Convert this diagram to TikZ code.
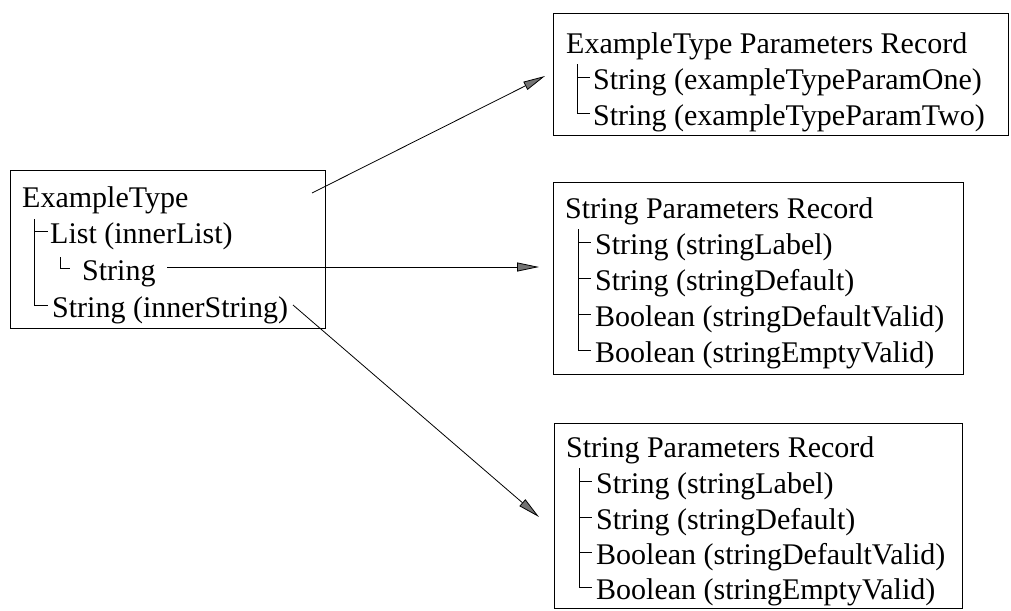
\documentclass[tikz,border=0pt]{standalone}
\usepackage{fontspec}
\setmainfont{Liberation Serif}
\usetikzlibrary{arrows.meta}
\begin{document}
\begin{tikzpicture}[x=1pt,y=-1pt,
  frame/.style={draw, line width=0.8pt, inner sep=0pt, anchor=north west},
  lbl/.style={anchor=base west, inner sep=0pt, font=\fontsize{30}{36}\selectfont},
  tree/.style={line width=0.8pt},
  link/.style={line width=0.8pt, -{Triangle[length=22pt,width=9pt,fill=black!55]}}]
\useasboundingbox (0,0) rectangle (1011,610);

% record boxes
\node[frame, minimum width=315pt, minimum height=158pt] (src) at (10,170) {};
\node[frame, minimum width=455pt, minimum height=122pt] (rtop) at (553,13) {};
\node[frame, minimum width=410pt, minimum height=192pt] (rmid) at (553,182) {};
\node[frame, minimum width=408pt, minimum height=185pt] (rbot) at (554,423) {};

% source type
\node[lbl] (s0) at (22,207) {ExampleType};
\node[lbl] (s1) at (50,243) {List (innerList)};
\node[lbl] (s2) at (82,280) {String};
\node[lbl] (s3) at (52,317) {String (innerString)};
\draw[tree] (34,219) -- (34,305) -- (48,305);
\draw[tree] (34,231) -- (48,231);
\draw[tree] (60,257) -- (60,268) -- (70,268);

% ExampleType parameters record
\node[lbl] (p0) at (566,53) {ExampleType Parameters Record};
\node[lbl] (p1) at (593,89) {String (exampleTypeParamOne)};
\node[lbl] (p2) at (593,125) {String (exampleTypeParamTwo)};
\draw[tree] (577,64) -- (577,113) -- (590,113);
\draw[tree] (577,77) -- (590,77);

% String parameters record (middle)
\node[lbl] (m0) at (565,218) {String Parameters Record};
\node[lbl] (m1) at (595,254) {String (stringLabel)};
\node[lbl] (m2) at (595,290) {String (stringDefault)};
\node[lbl] (m3) at (595,326) {Boolean (stringDefaultValid)};
\node[lbl] (m4) at (595,362) {Boolean (stringEmptyValid)};
\draw[tree] (578,229) -- (578,350) -- (591,350);
\foreach \y in {242,278,314} \draw[tree] (578,\y) -- (591,\y);

% String parameters record (bottom)
\node[lbl] (b0) at (566,457) {String Parameters Record};
\node[lbl] (b1) at (596,493) {String (stringLabel)};
\node[lbl] (b2) at (596,529) {String (stringDefault)};
\node[lbl] (b3) at (596,564) {Boolean (stringDefaultValid)};
\node[lbl] (b4) at (596,599) {Boolean (stringEmptyValid)};
\draw[tree] (579,468) -- (579,587) -- (592,587);
\foreach \y in {481,517,552} \draw[tree] (579,\y) -- (592,\y);

% connectors
\coordinate (a1s) at (312,193);
\coordinate (a1e) at (545,76);
\coordinate (a2s) at (167,267);
\coordinate (a2e) at (539,267);
\coordinate (a3s) at (293,305);
\coordinate (a3e) at (539,517);
\draw[link] (a1s) -- (a1e);
\draw[link] (a2s) -- (a2e);
\draw[link] (a3s) -- (a3e);
\end{tikzpicture}
\end{document}
